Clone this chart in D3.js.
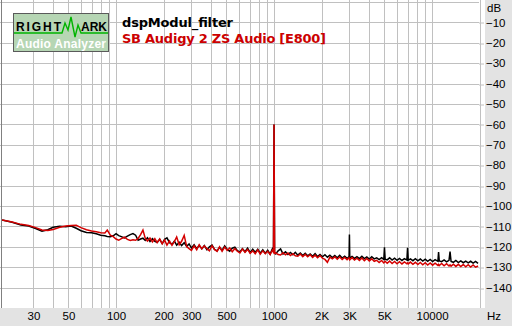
<!DOCTYPE html>
<html>
<head>
<meta charset="utf-8">
<script src="https://cdn.jsdelivr.net/npm/d3@7/dist/d3.min.js"></script>
<style>
  body { margin: 0; background: #e3e3e3; }
</style>
</head>
<body>
<script>
// spectrum data (Hz / dB)
var freqs = [
  19,22,25,28,31,34,37,40,44,48,52,56,60,65,70,75,80,85,88,92,96,
  100,104,108,113,118,123,128,133,138,143,148,153,158,164,170,176,182,189,196,203,210,218,226,234,242,251,260,270,280,290,300,
  312,324,336,349,362,376,390,405,420,436,452,469,487,505,524,544,565,586,608,631,655,680,706,733,760,789,818,849,880,912,945,975,
  992,1000,1008,1025,1062,1100,1140,1182,1225,1270,1316,1364,1414,1466,1520,1575,1633,1693,1755,1819,1885,1954,2025,2100,2176,2256,2338,2424,2512,2604,2699,2798,2900,2985,3000,3015,
  3116,3230,3348,3470,3597,3729,3865,4007,4153,4305,4462,4625,4795,4950,5000,5050,5200,5390,5587,5791,6003,6222,6450,6686,6930,7000,7070,7300,7567,7844,8131,8428,8736,9056,9387,9730,10086,10455,10890,11000,11110,11500,11920,12355,12807,13000,13200,13650,14150,14670,15200,15760,16340,16940,17560,18200,18860,19550
];

var dspModul = [
  -106.9,-108.0,-109.3,-109.8,-111.0,-112.3,-111.6,-110.4,-109.9,-110.2,-109.8,-110.9,-112.1,-113.0,-113.1,-113.6,-114.3,-114.6,-114.9,-115.1,-114.6,
  -113.6,-114.5,-115.0,-115.6,-114.8,-114.0,-113.5,-114.3,-116.8,-116.2,-115.8,-116.9,-115.6,-117.4,-116.0,-117.3,-117.8,-116.4,-118.4,-116.3,-115.6,-118.0,-118.8,-117.2,-119.2,-117.8,-119.4,-118.0,-119.8,-118.6,-120.6,
  -119.0,-120.9,-119.3,-121.0,-119.4,-121.4,-120.0,-119.2,-121.3,-122.0,-120.3,-121.7,-119.6,-121.3,-122.2,-120.7,-120.2,-121.9,-122.5,-120.9,-122.4,-120.7,-122.9,-121.2,-122.7,-121.2,-123.1,-121.5,-123.2,-121.7,-123.6,-121.1,
  -122.5,-60,-123.0,-123.5,-122.0,-121.0,-123.5,-122.5,-123.8,-122.8,-123.9,-122.7,-124.1,-123.1,-124.3,-123.2,-124.4,-123.5,-124.6,-123.3,-124.8,-123.8,-124.9,-123.9,-125.1,-124.1,-125.3,-124.3,-125.4,-124.2,-125.5,-124.6,-125.7,-124.8,-114.0,-125.5,
  -124.7,-125.7,-124.8,-125.8,-124.7,-125.8,-125.0,-126.0,-124.9,-125.9,-125.4,-126.3,-125.3,-126.2,-120.3,-126.1,-126.4,-125.4,-126.5,-125.6,-126.6,-125.7,-126.7,-125.8,-126.5,-120.5,-126.6,-125.9,-126.8,-125.8,-126.9,-126.0,-127.0,-126.1,-127.1,-126.2,-127.2,-126.3,-127.1,-122.6,-126.9,-127.3,-126.4,-127.4,-126.6,-122.4,-127.2,-127.6,-126.7,-127.7,-126.9,-127.8,-127.0,-127.9,-127.1,-128.0,-127.2,-128.1
];

var audigy = [
  -106.9,-107.8,-109.0,-109.6,-110.6,-111.8,-112.0,-111.5,-110.4,-109.8,-109.6,-109.5,-110.6,-111.6,-112.3,-112.6,-113.1,-113.2,-111.8,-114.3,-115.0,
  -116.2,-116.8,-116.0,-115.3,-116.4,-116.9,-116.5,-116.8,-115.9,-114.0,-111.8,-115.8,-117.2,-115.7,-117.6,-116.0,-118.0,-116.2,-118.5,-116.7,-119.2,-117.1,-119.3,-117.5,-115.2,-119.0,-117.3,-114.4,-119.9,-120.9,-121.8,
  -119.5,-121.4,-119.0,-121.0,-119.5,-120.9,-122.0,-119.5,-121.3,-122.2,-120.0,-122.2,-120.1,-121.8,-120.6,-122.4,-120.9,-122.2,-123.0,-121.1,-122.7,-121.3,-123.2,-122.0,-123.4,-121.5,-123.6,-122.0,-123.4,-122.2,-123.8,-121.7,
  -122.6,-60,-123.2,-123.0,-123.8,-124.0,-122.9,-123.9,-123.0,-124.3,-123.4,-124.4,-124.6,-123.5,-124.8,-123.7,-124.9,-123.9,-125.2,-124.1,-125.4,-124.3,-125.6,-126.2,-127.6,-125.1,-125.9,-124.9,-126.1,-125.0,-126.2,-125.2,-126.3,-125.4,-125.8,-126.4,
  -125.3,-126.5,-125.6,-126.7,-125.5,-126.8,-125.7,-126.9,-125.9,-127.1,-126.6,-127.7,-126.7,-127.9,-127.5,-127.1,-128.1,-127.0,-128.2,-127.2,-128.3,-127.3,-128.4,-127.4,-128.3,-127.9,-128.4,-127.5,-128.6,-127.6,-128.7,-127.7,-128.8,-127.8,-128.9,-127.9,-129.0,-128.0,-129.1,-128.6,-129.2,-128.2,-129.3,-128.3,-129.4,-128.9,-129.5,-128.5,-129.6,-128.6,-129.7,-128.7,-129.8,-128.8,-129.9,-128.9,-130.0,-129.4
];

var gridFreqs = [30,40,50,60,70,80,90,100,200,300,400,500,600,700,800,900,1000,2000,3000,4000,5000,6000,7000,8000,9000,10000,20000];
var xTickValues = [30,50,100,200,300,500,1000,2000,3000,5000,10000];
var xTickText = ["30","50","100","200","300","500","1000","2K","3K","5K","10000"];
var yGrid = [0,-10,-20,-30,-40,-50,-60,-70,-80,-90,-100,-110,-120,-130,-140];
var yTickValues = [-10,-20,-30,-40,-50,-60,-70,-80,-90,-100,-110,-120,-130,-140];

var width = 512, height = 326;
var plotW = 485, plotH = 308;
var labelFont = "'Liberation Sans', Arial, sans-serif";
var titleFont = "'DejaVu Sans', Verdana, sans-serif";

var svg = d3.select("body").append("svg")
  .attr("width", width)
  .attr("height", height)
  .style("font-family", labelFont);

var x = d3.scaleLog().domain([20, 20000]).range([5.6, 479.6]);
var y = d3.scaleLinear().domain([0, -150]).range([2, 308]);

svg.append("rect").attr("width", width).attr("height", height).attr("fill", "#e3e3e3");
svg.append("rect").attr("width", plotW).attr("height", plotH).attr("fill", "#fff");

// grid
svg.append("g").selectAll("line").data(gridFreqs).enter().append("line")
  .attr("x1", function(d) { return Math.round(x(d)) + 0.5; })
  .attr("x2", function(d) { return Math.round(x(d)) + 0.5; })
  .attr("y1", 0).attr("y2", plotH)
  .attr("stroke", "#c0c0c0");

svg.append("g").selectAll("line").data(yGrid).enter().append("line")
  .attr("x1", 0).attr("x2", 479)
  .attr("y1", function(d) { return Math.round(y(d)) + 0.5; })
  .attr("y2", function(d) { return Math.round(y(d)) + 0.5; })
  .attr("stroke", "#c0c0c0");

svg.append("line").attr("x1", 1.5).attr("x2", 1.5).attr("y1", 0).attr("y2", plotH)
  .attr("stroke", "#808080");

// axes
var yAxis = svg.append("g")
  .attr("transform", "translate(479,0)")
  .call(d3.axisRight(y).tickValues(yTickValues).tickSize(5).tickPadding(2));
yAxis.select(".domain").remove();
yAxis.selectAll("line").attr("stroke", "#c0c0c0")
  .attr("transform", function(d) { return "translate(0," + (Math.round(y(d)) + 0.5 - y(d)) + ")"; });
yAxis.selectAll("text").attr("fill", "#000")
  .style("font-size", "11.5px").style("font-family", labelFont);

var xAxis = svg.append("g")
  .attr("transform", "translate(0," + plotH + ")")
  .call(d3.axisBottom(x).tickValues(xTickValues)
    .tickFormat(function(d, i) { return xTickText[i]; })
    .tickSize(0).tickPadding(4));
xAxis.select(".domain").remove();
xAxis.selectAll("text").attr("fill", "#000")
  .style("font-size", "11.5px").style("font-family", labelFont);

svg.append("text").attr("x", 487).attr("y", 12).style("font-size", "11.5px").text("dB");
svg.append("text").attr("x", 487).attr("y", 320).style("font-size", "11.5px").text("Hz");

// curves
svg.append("clipPath").attr("id", "clip").append("rect")
  .attr("x", 2).attr("width", plotW - 2).attr("height", plotH);

var line = d3.line()
  .x(function(d) { return x(d[0]); })
  .y(function(d) { return y(d[1]); });

var curves = svg.append("g").attr("clip-path", "url(#clip)");
curves.append("path")
  .datum(d3.zip(freqs, dspModul))
  .attr("d", line)
  .attr("fill", "none").attr("stroke", "#000").attr("stroke-width", 1.5);
curves.append("path")
  .datum(d3.zip(freqs, audigy))
  .attr("d", line)
  .attr("fill", "none").attr("stroke", "#d40000").attr("stroke-width", 1.5);

// logo
var logo = svg.append("g").attr("transform", "translate(13,13)");
logo.append("rect").attr("x", 0.5).attr("y", 0.5).attr("width", 95).attr("height", 38)
  .attr("fill", "#b6d6b4").attr("stroke", "#5a5a5a");
logo.append("polyline")
  .attr("points", "1,20 49,20 52,10 55,17 58,4 62,24 65,12 68,20 95,20")
  .attr("fill", "none").attr("stroke", "#00b400").attr("stroke-width", 1.4);
logo.append("text").attr("x", 3).attr("y", 18).attr("textLength", 45)
  .style("font-size", "12px").style("font-weight", "bold").text("RIGHT");
logo.append("text").attr("x", 68).attr("y", 18).attr("textLength", 26)
  .style("font-size", "12px").style("font-weight", "bold").text("ARK");
logo.append("text").attr("x", 3).attr("y", 35).attr("textLength", 90)
  .style("font-size", "12px").style("font-weight", "bold")
  .attr("fill", "#fff").text("Audio Analyzer");

// titles
svg.append("text").attr("x", 122).attr("y", 27).attr("textLength", 111)
  .style("font-family", titleFont).style("font-size", "13px").style("font-weight", "bold")
  .attr("fill", "#000").text("dspModul_filter");
svg.append("text").attr("x", 122).attr("y", 43).attr("textLength", 204)
  .style("font-family", titleFont).style("font-size", "13px").style("font-weight", "bold")
  .attr("fill", "#cc0000").text("SB Audigy 2 ZS Audio [E800]");
</script>
</body>
</html>
